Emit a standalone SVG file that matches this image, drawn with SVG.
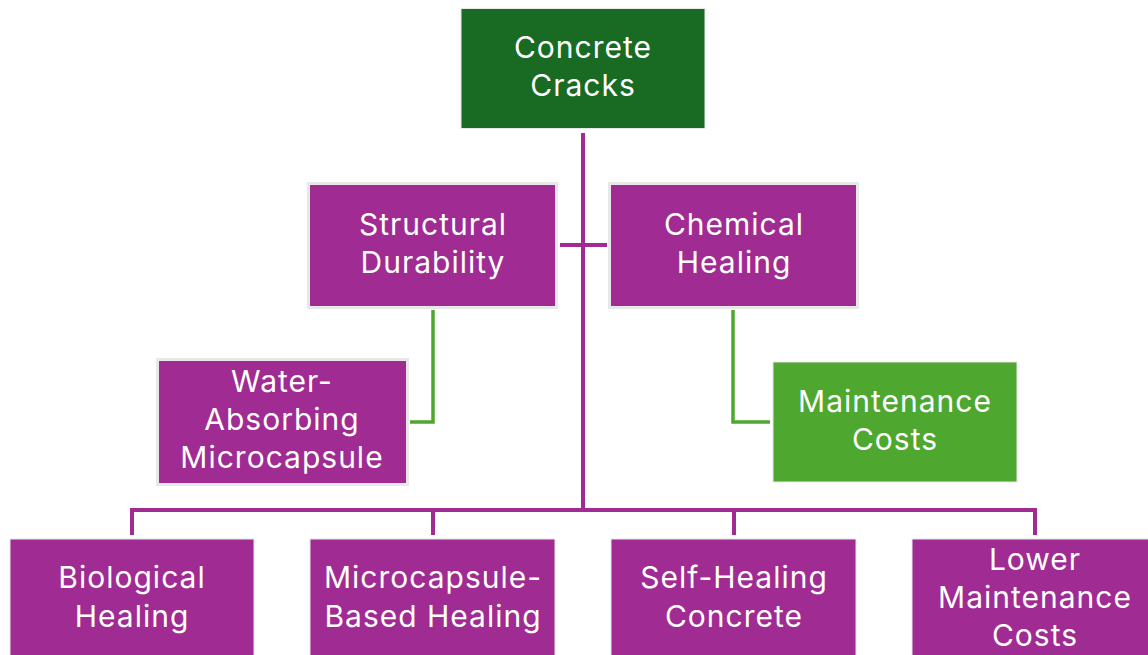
<svg xmlns="http://www.w3.org/2000/svg" width="1148" height="655" viewBox="0 0 1148 655">
<style>
text{font-family:Inter,"Open Sans","Liberation Sans",sans-serif;font-size:30px;letter-spacing:1px;fill:#fff;text-anchor:middle}
.p{fill:#A02B93}
.g{stroke:#E8E8E8;stroke-width:3}
.t{stroke:#E8E8E8;stroke-width:1}
.cp{fill:none;stroke:#A02B93;stroke-width:4}
.cg{fill:none;stroke:#4EA72E;stroke-width:3.5}
</style>
<rect width="1148" height="655" fill="#fff"/>
<g id="connectors">
<path class="cp" d="M583 133V510M560 245H607M132 535V510H1035V535M433 510V535M734 510V535"/>
<path class="cg" d="M433 310V422H410M733 310V422H770"/>
</g>
<g id="n-concrete-cracks"><rect x="461" y="8.5" width="244" height="120" fill="#196B24" class="t"/><text x="583" y="58">Concrete</text><text x="583" y="96">Cracks</text></g>
<g id="n-structural"><rect x="308.5" y="183.5" width="248" height="124" class="p g"/><text x="433" y="235">Structural</text><text x="433" y="273">Durability</text></g>
<g id="n-chemical"><rect x="609.5" y="183.5" width="248" height="124" class="p g"/><text x="734" y="235">Chemical</text><text x="734" y="273">Healing</text></g>
<g id="n-water"><rect x="157.5" y="359.5" width="250" height="125" class="p g"/><text x="282" y="392">Water-</text><text x="282" y="430">Absorbing</text><text x="282" y="468">Microcapsule</text></g>
<g id="n-maintenance"><rect x="773" y="362" width="244" height="120" fill="#4EA72E" class="t"/><text x="895" y="412">Maintenance</text><text x="895" y="450">Costs</text></g>
<g id="n-biological"><rect x="10" y="539" width="244" height="125" class="p t"/><text x="132" y="588">Biological</text><text x="132" y="627">Healing</text></g>
<g id="n-microcapsule"><rect x="310" y="539" width="245" height="125" class="p t"/><text x="433" y="588">Microcapsule-</text><text x="433" y="627">Based Healing</text></g>
<g id="n-selfhealing"><rect x="611" y="539" width="245" height="125" class="p t"/><text x="734" y="588">Self-Healing</text><text x="734" y="627">Concrete</text></g>
<g id="n-lower"><rect x="912" y="539" width="245" height="125" class="p t"/><text x="1035" y="570">Lower</text><text x="1035" y="608">Maintenance</text><text x="1035" y="646">Costs</text></g>
</svg>
